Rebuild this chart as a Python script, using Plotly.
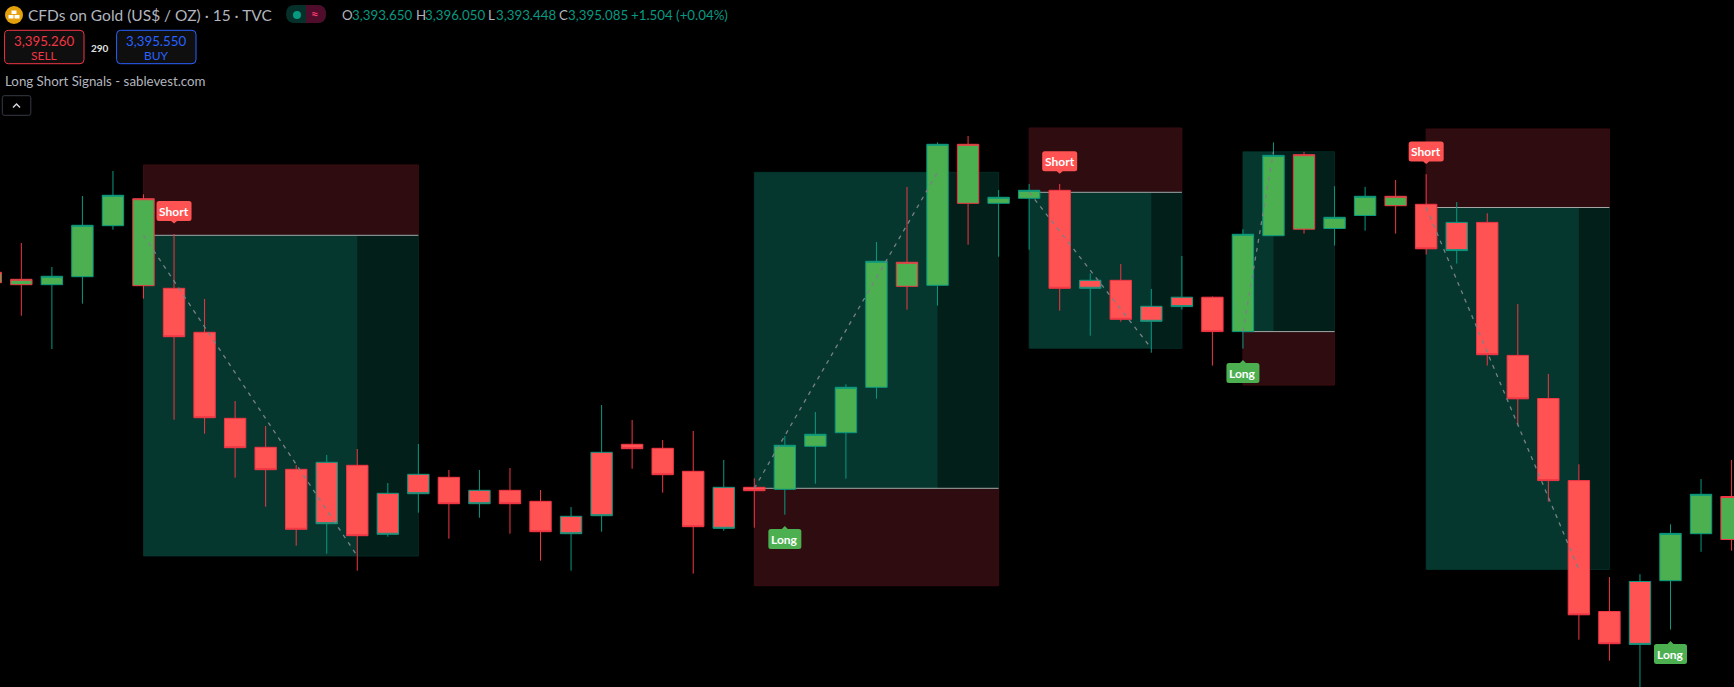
import plotly.graph_objects as go

W, H = 1734, 687

# Values. The chart shows no price scale, so levels are
# in chart units (0 = bottom edge, 687 = top edge).
high = [414.7,444,420,491,516,492.7,453,388,286,261,222,232,238,204,243,217,217,219,197,180,
        282,267,247,256,227,208.7,251,275,302.7,445,500,544.7,551,497,503,503,413.7,423,398,431,
        390.5,457.8,544.6,535.2,500.8,500.1,507,512.8,484.9,473.7,382.9,313.1,222.7,109.9,112.8,162.7,207.9,227]
body_top = [414.7,407.7,410.7,461.7,491.7,488.3,398.7,354.7,268.7,239.7,217.7,224.7,221.7,193.7,212.7,209.7,196.7,196.7,185.7,170.7,
            234.7,242.7,238.7,215.7,199.7,199.7,241.7,252.7,299.7,425.7,424.7,542.7,542.7,489.7,496.7,496.7,406.7,406.7,380.7,389.8,
            389.8,452.7,531.6,532.3,469.7,490.7,490.7,482.7,464.6,464.6,331.6,288.5,206.4,75.5,105.5,153.6,192.7,190.5]
body_bottom = [404.3,402.3,402.3,410.3,461.3,401.3,350.3,269.3,239.3,217.3,157.7,163.3,151.3,152.7,193.3,183.3,183.3,183.3,155.3,153.3,
               171.3,238.3,212.3,160.3,158.7,196.3,197.7,240.7,254.3,299.7,400.7,401.7,483.7,483.7,488.7,398.7,398.7,367.7,365.7,380.4,
               355.4,355.4,451.3,457.8,458.5,471.5,481.3,438.2,436.4,332.3,288.2,206.4,72.2,43.3,42.6,106.3,153.3,147.5]
low = [404.3,371.3,338,383.3,457.3,388.3,267.3,253.3,209.3,180.3,141.3,133.3,116.3,150.3,174.3,148.3,169.3,153.3,126.3,116.3,
       155.3,218.3,194.3,113.3,156.3,159.3,172.3,203.3,208.3,288.3,377.3,381.3,442.3,430.3,437.3,376.3,351.3,365.3,334.3,377.5,
       321.4,338.4,451.3,453.4,441.5,456.3,453.4,432.5,423.4,321.4,262.5,185.4,47.3,26.3,0,57.4,135.2,136.3]
green_body_bars = list(range(0, 6)) + list(range(26, 35)) + list(range(41, 47)) + list(range(55, 58))
teal_outline_bars = [2,3,4,11,13,14,16,19,20,24,26,27,28,29,31,33,34,36,38,39,41,42,44,45,48,54,55,56]

# Trades: first bar, stop-zone end bar, target end bar, entry, stop, target
trade_start = [5, 25, 34, 41, 47]
trade_mid = [12, 31, 38, 42, 52]
trade_end = [14, 33, 39, 44, 53]
trade_entry = [451.7, 198.7, 494.7, 355.4, 479.5]
trade_stop = [522, 101.3, 559, 301.9, 558]
trade_target = [131, 514.7, 338.7, 535.2, 117.5]

signal_bars = [6, 26, 35, 41, 47, 55]
signal_text = ["Short", "Long", "Short", "Long", "Short", "Long"]
signal_level = [463.5, 161, 513.3, 327, 523, 46]

BG = "#000000"
UP, DOWN = "#4CAF50", "#FF5252"
TEAL, RED = "#089981", "#F23645"
ZONE_G, ZONE_G2, ZONE_R = "#05372F", "#031F1A", "#2F0C0F"
FONT = "Lato"

px = lambda x: x / W
py = lambda y: 1 - y / H


def rrect(x0, y0, x1, y1, r):
    X, Y = px, py
    return (f"M{X(x0+r)},{Y(y0)} L{X(x1-r)},{Y(y0)} Q{X(x1)},{Y(y0)} {X(x1)},{Y(y0+r)} "
            f"L{X(x1)},{Y(y1-r)} Q{X(x1)},{Y(y1)} {X(x1-r)},{Y(y1)} L{X(x0+r)},{Y(y1)} "
            f"Q{X(x0)},{Y(y1)} {X(x0)},{Y(y1-r)} L{X(x0)},{Y(y0+r)} Q{X(x0)},{Y(y0)} {X(x0+r)},{Y(y0)} Z")


fig = go.Figure()
shapes, notes = [], []


def zone(x0, x1, y0, y1, fill, edge=None):
    shapes.append(dict(type="rect", xref="x", yref="y", x0=x0, x1=x1, y0=y0, y1=y1, layer="below",
                       fillcolor=fill, line=dict(width=1 if edge else 0, color=edge or fill)))


for s, m, e, en, st, tg in zip(trade_start, trade_mid, trade_end, trade_entry, trade_stop, trade_target):
    zone(s, e, en, st, ZONE_R, "#3A0D12")
    zone(s, e, en, tg, ZONE_G2, "#042A24")
    zone(s, m, en, tg, ZONE_G)
    shapes.append(dict(type="line", xref="x", yref="y", x0=s, x1=e, y0=en, y1=en, layer="below",
                       line=dict(color="#A6A6A6", width=1)))
    fig.add_trace(go.Scatter(x=[s, m], y=[en, tg], mode="lines", hoverinfo="skip", showlegend=False,
                             line=dict(color="#7A8085", width=1.3, dash="4px,5px")))

bars = list(range(len(high)))
opens = [body_bottom[i] if i in green_body_bars else body_top[i] for i in bars]
closes = [body_top[i] if i in green_body_bars else body_bottom[i] for i in bars]

for colour, idx in ((TEAL, teal_outline_bars), (RED, [i for i in bars if i not in teal_outline_bars])):
    fig.add_trace(go.Candlestick(
        x=idx, open=[opens[i] for i in idx], high=[high[i] for i in idx],
        low=[low[i] for i in idx], close=[closes[i] for i in idx], showlegend=False,
        whiskerwidth=0,
        increasing=dict(fillcolor=UP, line=dict(color=colour, width=1)),
        decreasing=dict(fillcolor=DOWN, line=dict(color=colour, width=1))))

# Signal badges, sized in pixels and anchored to the bar and level
for bar, text, lvl in zip(signal_bars, signal_text, signal_level):
    short = text == "Short"
    hw = 17.5 if short else 16.5
    r = 2.5
    if short:  # pointer below the badge; positive y is upward in pixel mode
        t, b = 22.5, 2.5
        tip = f"L3,{b} L0,0 L-3,{b}"
        path = (f"M{-hw+r},{t} L{hw-r},{t} Q{hw},{t} {hw},{t-r} L{hw},{b+r} Q{hw},{b} {hw-r},{b} "
                f"{tip} L{-hw+r},{b} Q{-hw},{b} {-hw},{b+r} L{-hw},{t-r} Q{-hw},{t} {-hw+r},{t} Z")
        ys = -12.5
    else:
        t, b = -3, -23
        path = (f"M{-hw+r},{t} L-3,{t} L0,0 L3,{t} L{hw-r},{t} Q{hw},{t} {hw},{t-r} L{hw},{b+r} Q{hw},{b} {hw-r},{b} "
                f"L{-hw+r},{b} Q{-hw},{b} {-hw},{b+r} L{-hw},{t-r} Q{-hw},{t} {-hw+r},{t} Z")
        ys = 13
    shapes.append(dict(type="path", xsizemode="pixel", ysizemode="pixel", xref="x", yref="y",
                       xanchor=bar, yanchor=lvl, path=path, fillcolor=DOWN if short else UP,
                       line=dict(width=0), layer="above"))
    notes.append(dict(xref="x", yref="y", x=bar, y=lvl, text=text, showarrow=False,
                      xanchor="center", yanchor="middle", xshift=0, yshift=-ys,
                      font=dict(family=FONT, size=12, color="#FFFFFF", weight=700)))


def label(x, y, text, size=13, color="#B2B5BE", anchor="left", weight=400):
    notes.append(dict(xref="paper", yref="paper", x=px(x), y=py(y), text=text, showarrow=False,
                      xanchor=anchor, yanchor="middle", borderpad=0, borderwidth=0,
                      font=dict(family=FONT, size=size, color=color, weight=weight)))


def chrome(path, fill, edge=None):
    shapes.append(dict(type="path", xref="paper", yref="paper", path=path, fillcolor=fill, layer="above",
                       line=dict(width=1 if edge else 0, color=edge or fill)))


# Header: logo
shapes.append(dict(type="circle", xref="paper", yref="paper", x0=px(5), x1=px(23), y0=py(6), y1=py(24),
                   fillcolor="#E5A00D", line=dict(width=0), layer="above"))
for x0, x1, y0, y1 in ((11.5, 16.5, 10.5, 14), (8.5, 13.5, 15, 18.5), (14.5, 19.5, 15, 18.5)):
    shapes.append(dict(type="rect", xref="paper", yref="paper", x0=px(x0), x1=px(x1), y0=py(y0), y1=py(y1),
                       fillcolor="#FFFFFF", line=dict(width=0), layer="above"))
label(27.5, 15, "CFDs on Gold (US$ / OZ) · 15 · TVC", size=15.5)

# Status pill
chrome(rrect(286, 5, 326, 23, 9), "#06302A")
shapes.append(dict(type="path", xref="paper", yref="paper", layer="above", fillcolor="#4F0D2B", line=dict(width=0),
                   path=f"M{px(306)},{py(5)} L{px(317)},{py(5)} Q{px(326)},{py(5)} {px(326)},{py(14)} "
                        f"Q{px(326)},{py(23)} {px(317)},{py(23)} L{px(306)},{py(23)} Z"))
shapes.append(dict(type="circle", xref="paper", yref="paper", x0=px(293), x1=px(301), y0=py(11), y1=py(19),
                   fillcolor="#089981", line=dict(width=0), layer="above"))
label(315, 14, "≈", size=13, color="#F23A6E", anchor="center", weight=700)

# OHLC readout
for x, text, color in ((342, "O", "#B2B5BE"), (352, "3,393.650", TEAL), (415.5, "H", "#B2B5BE"),
                       (424.7, "3,396.050", TEAL), (488, "L", "#B2B5BE"), (496, "3,393.448", TEAL),
                       (558.8, "C", "#B2B5BE"), (568, "3,395.085", TEAL), (631, "+1.504 (+0.04%)", TEAL)):
    label(x, 15, text, size=13.3, color=color)

# Sell / Buy
chrome(rrect(4.6, 30.3, 84, 63.7, 4), "#0F0F0F", RED)
chrome(rrect(116.6, 30.3, 196, 63.7, 4), "#0F0F0F", "#2962FF")
label(44.3, 40.7, "3,395.260", size=13.3, color=RED, anchor="center")
label(44.3, 55, "SELL", size=12, color=RED, anchor="center")
label(156.3, 40.7, "3,395.550", size=13.3, color="#2962FF", anchor="center")
label(156.3, 55, "BUY", size=12, color="#2962FF", anchor="center")
label(99.6, 47.7, "290", size=10, color="#E0E0E0", anchor="center", weight=700)

label(4.6, 81, "Long Short Signals - sablevest.com", size=13.3)
chrome(rrect(2.3, 95.7, 30.8, 115.3, 2), "#000000", "#363A45")
shapes.append(dict(type="path", xref="paper", yref="paper", layer="above", line=dict(width=1.5, color="#D1D4DC"),
                   path=f"M{px(13)},{py(107.5)} L{px(16.5)},{py(104)} L{px(20)},{py(107.5)}"))

fig.update_layout(
    width=W, height=H, margin=dict(l=0, r=0, t=0, b=0), paper_bgcolor=BG, plot_bgcolor=BG,
    showlegend=False, shapes=shapes, annotations=notes, hovermode=False,
    boxmode="overlay", boxgap=0.3, boxgroupgap=0,
    xaxis=dict(range=[9.2 / 30.54, (W + 9.2) / 30.54], visible=False, rangeslider=dict(visible=False),
               showgrid=False, zeroline=False, fixedrange=True),
    yaxis=dict(range=[0, H], visible=False, showgrid=False, zeroline=False, fixedrange=True),
)
fig.write_html("out.html", config=dict(displayModeBar=False),
               post_script="document.body.style.margin='0';document.body.style.overflow='hidden';document.body.style.background='#000';")
